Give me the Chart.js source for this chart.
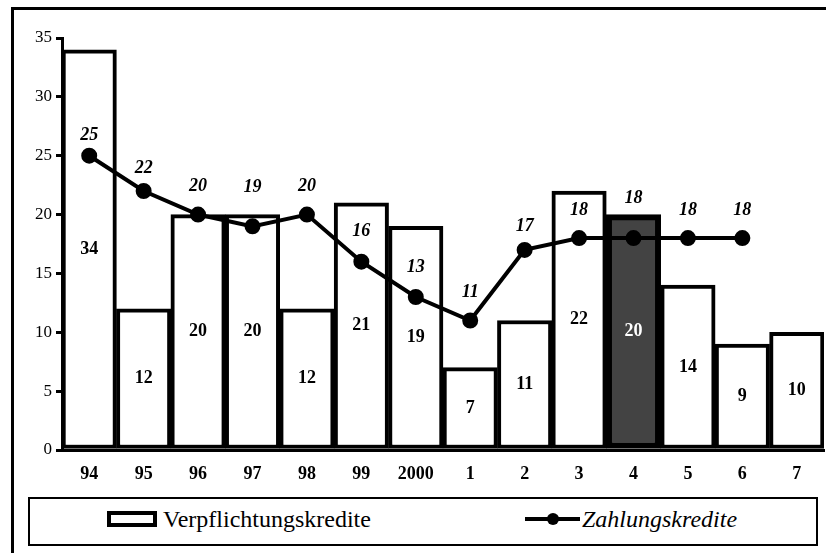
<!DOCTYPE html>
<html><head><meta charset="utf-8">
<script src="https://cdn.jsdelivr.net/npm/chart.js@4"></script>
<style>
html,body{margin:0;padding:0;background:#fff;width:826px;height:553px;overflow:hidden;}
#wrap{position:absolute;left:0;top:0;width:826px;height:553px;}
#frame{position:absolute;left:11px;top:7px;width:830px;height:560px;border:3px solid #000;box-sizing:border-box;pointer-events:none;}
#legend{position:absolute;left:28px;top:497px;width:790px;height:49px;border:2px solid #000;box-sizing:border-box;background:#fff;font-family:"Liberation Serif","Times New Roman",serif;font-size:24px;line-height:24px;}
.sw{position:absolute;left:77px;top:12px;width:50px;height:16px;border:4px solid #000;box-sizing:border-box;background:#fff;}
.t1{position:absolute;left:133px;top:8px;white-space:nowrap;}
.ln{position:absolute;left:495px;top:18px;width:55px;height:4px;background:#000;}
.dot{position:absolute;left:517px;top:14px;width:12px;height:12px;border-radius:50%;background:#000;}
.t2{position:absolute;left:552px;top:8px;font-style:italic;white-space:nowrap;}
canvas{position:absolute;left:0;top:0;}
</style></head>
<body>
<div id="wrap"><canvas id="c" width="826" height="553"></canvas></div>
<div id="frame"></div>
<div id="legend"><div class="sw"></div><span class="t1">Verpflichtungskredite</span><div class="ln"></div><div class="dot"></div><span class="t2">Zahlungskredite</span></div>
<script>
const categories = ["94","95","96","97","98","99","2000","1","2","3","4","5","6","7"];
const verpflichtungskredite = [34,12,20,20,12,21,19,7,11,22,20,14,9,10];
const zahlungskredite = [25,22,20,19,20,16,13,11,17,18,18,18,18,null];
const highlightIndex = 10;

const SERIF = '"Liberation Serif","Times New Roman",serif';

const labelPlugin = {
  id:'valueLabels',
  afterDatasetsDraw(chart, args, opts){
    const lift = opts.lineLabelLift || [];
    const ctx = chart.ctx;
    ctx.save();
    ctx.textAlign='center';
    ctx.textBaseline='middle';
    const barMeta = chart.getDatasetMeta(0);
    ctx.font = 'bold 18px ' + SERIF;
    barMeta.data.forEach((el,i)=>{
      const v = chart.data.datasets[0].data[i];
      if(v==null) return;
      ctx.fillStyle = i===highlightIndex ? '#fff' : '#000';
      ctx.fillText(String(v), el.x, (el.y+el.base)/2);
    });
    const lineMeta = chart.getDatasetMeta(1);
    ctx.font = 'italic bold 18px ' + SERIF;
    ctx.fillStyle='#000';
    lineMeta.data.forEach((el,i)=>{
      const v = chart.data.datasets[1].data[i];
      if(v==null) return;
      const ly = el.y - (lift[i] != null ? lift[i] : 22);
      ctx.fillText(String(v), el.x, ly);
    });
    ctx.restore();
  }
};

new Chart(document.getElementById('c'),{
  data:{
    labels:categories,
    datasets:[
      {type:'bar',label:'Verpflichtungskredite',data:verpflichtungskredite,
       backgroundColor:verpflichtungskredite.map((_,i)=>i===highlightIndex?'#434343':'#fff'),
       borderColor:'#000',
       borderWidth:verpflichtungskredite.map((_,i)=>i===highlightIndex?6:4),
       borderSkipped:false,
       categoryPercentage:1,barPercentage:1,order:2},
      {type:'line',label:'Zahlungskredite',data:zahlungskredite,
       borderColor:'#000',backgroundColor:'#000',borderWidth:4,
       pointRadius:6,pointBackgroundColor:'#000',pointBorderColor:'#000',
       tension:0,spanGaps:false,order:1}
    ]
  },
  options:{
    responsive:false,animation:false,
    layout:{autoPadding:false,padding:{left:0,right:2,top:38,bottom:0}},
    plugins:{
      legend:{display:false},tooltip:{enabled:false},
      valueLabels:{lineLabelLift:[20,23,28,39,28,30,30,28,24,28,40,28,28]}
    },
    scales:{
      x:{
        grid:{display:false,drawTicks:false},
        border:{display:true,color:'#000',width:3},
        ticks:{color:'#000',font:{family:SERIF,size:18,weight:'bold'},padding:14,maxRotation:0},
        afterFit(s){s.height=103;}
      },
      y:{
        min:0,max:35,
        grid:{display:true,drawOnChartArea:false,drawTicks:true,tickLength:6,color:'#000',lineWidth:3},
        border:{display:true,color:'#000',width:3},
        ticks:{stepSize:5,color:'#000',font:{family:SERIF,size:17},padding:4},
        afterFit(s){s.width=62;}
      }
    }
  },
  plugins:[labelPlugin]
});
</script>
</body></html>
